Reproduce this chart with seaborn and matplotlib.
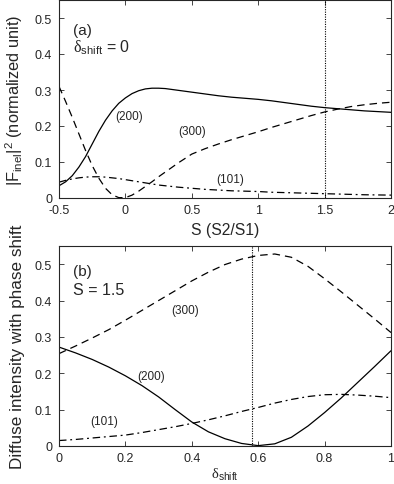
import numpy as np
import pandas as pd
import matplotlib
matplotlib.use('Agg')
import matplotlib.pyplot as plt
import seaborn as sns

# 面板 (a): 横轴 S, 三条曲线
s_vals = [-0.5, -0.45, -0.4, -0.35, -0.3, -0.25, -0.2, -0.15, -0.1, -0.05, 0.0,
          0.05, 0.1, 0.15, 0.2, 0.25, 0.3, 0.4, 0.5, 0.6, 0.7, 0.8, 0.9, 1.0,
          1.1, 1.2, 1.3, 1.4, 1.5, 1.6, 1.7, 1.8, 1.9, 2.0]
a_200 = [0.034, 0.045, 0.062, 0.086, 0.115, 0.150, 0.185, 0.216, 0.242, 0.263, 0.278,
         0.290, 0.298, 0.303, 0.305, 0.305, 0.304, 0.299, 0.294, 0.289, 0.284, 0.280,
         0.277, 0.274, 0.270, 0.265, 0.260, 0.255, 0.251, 0.248, 0.245, 0.242, 0.240, 0.238]
a_300 = [0.310, 0.268, 0.224, 0.178, 0.132, 0.090, 0.055, 0.027, 0.009, 0.001, 0.001,
         0.008, 0.019, 0.032, 0.045, 0.059, 0.072, 0.098, 0.122, 0.137, 0.150, 0.162,
         0.173, 0.184, 0.196, 0.207, 0.218, 0.229, 0.239, 0.247, 0.254, 0.259, 0.263, 0.266]
a_101 = [0.044, 0.049, 0.053, 0.056, 0.058, 0.059, 0.059, 0.058, 0.056, 0.054, 0.051,
         0.048, 0.045, 0.042, 0.039, 0.036, 0.034, 0.030, 0.027, 0.024, 0.022, 0.020,
         0.019, 0.018, 0.016, 0.015, 0.014, 0.013, 0.012, 0.011, 0.010, 0.009, 0.0085, 0.008]

# 面板 (b): 横轴 delta_shift
d_vals = [0.0, 0.05, 0.1, 0.15, 0.2, 0.25, 0.3, 0.35, 0.4, 0.45, 0.5, 0.55, 0.6,
          0.65, 0.7, 0.75, 0.8, 0.85, 0.9, 0.95, 1.0]
b_200 = [0.272, 0.256, 0.238, 0.217, 0.193, 0.166, 0.135, 0.100, 0.066, 0.039,
         0.020, 0.007, 0.001, 0.006, 0.024, 0.055, 0.092, 0.132, 0.175, 0.218, 0.262]
b_300 = [0.254, 0.275, 0.297, 0.320, 0.346, 0.373, 0.400, 0.427, 0.454, 0.478,
         0.499, 0.514, 0.524, 0.528, 0.519, 0.494, 0.460, 0.424, 0.387, 0.350, 0.312]
b_101 = [0.015, 0.018, 0.022, 0.026, 0.030, 0.037, 0.045, 0.053, 0.062, 0.072,
         0.083, 0.095, 0.106, 0.118, 0.128, 0.136, 0.141, 0.142, 0.140, 0.137, 0.133]

hkl = ['(200)', '(300)', '(101)']
s_marker = 1.5
d_marker = 0.58

sns.set_style('ticks', {'xtick.direction': 'in', 'ytick.direction': 'in'})
plt.rcParams['font.family'] = ['Liberation Sans', 'DejaVu Sans']
plt.rcParams['mathtext.fontset'] = 'custom'
plt.rcParams['mathtext.rm'] = 'Liberation Sans'
plt.rcParams['mathtext.it'] = 'Liberation Sans:italic'
plt.rcParams['mathtext.sf'] = 'Liberation Serif'
plt.rcParams['axes.unicode_minus'] = False
plt.rcParams['axes.linewidth'] = 0.8


def long_df(x, series):
    rows = []
    for name, vals in zip(hkl, series):
        rows.append(pd.DataFrame({'x': x, 'y': vals, 'hkl': name}))
    return pd.concat(rows, ignore_index=True)


df_a = long_df(s_vals, [a_200, a_300, a_101])
df_b = long_df(d_vals, [b_200, b_300, b_101])

dash_map = {'(200)': '', '(300)': (6, 4), '(101)': (6, 3, 1.5, 3)}

fig = plt.figure(figsize=(3.94, 4.85), dpi=100)
ax1 = fig.add_axes([59 / 394, 1 - 199 / 485, 332 / 394, 198 / 485])
ax2 = fig.add_axes([59 / 394, 1 - 447 / 485, 332 / 394, 200 / 485])

for ax, df in [(ax1, df_a), (ax2, df_b)]:
    sns.lineplot(data=df, x='x', y='y', style='hkl', dashes=dash_map,
                 color='black', linewidth=0.9, legend=False, ax=ax, sort=False)
    ax.tick_params(direction='in', top=True, right=True, length=3.5,
                   width=0.6, labelsize=9)
    ax.tick_params(axis='x', pad=4.5)
    ax.tick_params(axis='y', pad=5)
    ax.set_ylim(0, 0.55)
    ax.set_yticks([0, 0.1, 0.2, 0.3, 0.4, 0.5])
    ax.set_yticklabels(['0', '0.1', '0.2', '0.3', '0.4', '0.5'])
    for sp in ax.spines.values():
        sp.set_visible(True)
        sp.set_linewidth(0.8)

# (a)
ax1.axvline(s_marker, color='black', linestyle=(0, (1, 1.2)), linewidth=0.8)
ax1.set_xlim(-0.5, 2)
ax1.set_xticks([-0.5, 0, 0.5, 1, 1.5, 2])
ax1.set_xticklabels(['-0.5', '0', '0.5', '1', '1.5', '2'])
ax1.set_xlabel('S (S2/S1)', fontsize=11.3, labelpad=4)
ax1.set_ylabel(r'$|\mathrm{F}_{\mathrm{inel}}|^2$ (normalized unit)', fontsize=11.8, labelpad=7)
ax1.text(0.042, 0.85, '(a)', transform=ax1.transAxes, fontsize=11, va='center')
ax1.text(0.042, 0.765, r'$\mathsf{\delta}_{\mathrm{shift}}$ = 0', transform=ax1.transAxes,
         fontsize=11.5, va='center')
ax1.text(0.03, 0.228, '(200)', fontsize=8.5, ha='center', va='center')
ax1.text(0.5, 0.187, '(300)', fontsize=8.5, ha='center', va='center')
ax1.text(0.79, 0.053, '(101)', fontsize=8.5, ha='center', va='center')

# (b)
ax2.axvline(d_marker, color='black', linestyle=(0, (1, 1.2)), linewidth=0.8)
ax2.set_xlim(0, 1)
ax2.set_xticks([0, 0.2, 0.4, 0.6, 0.8, 1])
ax2.set_xticklabels(['0', '0.2', '0.4', '0.6', '0.8', '1'])
ax2.set_xlabel(r'$\mathsf{\delta}_{\mathrm{shift}}$', fontsize=10.5, labelpad=1)
ax2.set_ylabel('Diffuse intensity with phase shift', fontsize=12.3, labelpad=7)
ax2.text(0.042, 0.877, '(b)', transform=ax2.transAxes, fontsize=11, va='center')
ax2.text(0.042, 0.78, 'S = 1.5', transform=ax2.transAxes, fontsize=11.5, va='center')
ax2.text(0.38, 0.374, '(300)', fontsize=8.5, ha='center', va='center')
ax2.text(0.277, 0.193, '(200)', fontsize=8.5, ha='center', va='center')
ax2.text(0.135, 0.07, '(101)', fontsize=8.5, ha='center', va='center')

fig.savefig('out.png', dpi=100)
